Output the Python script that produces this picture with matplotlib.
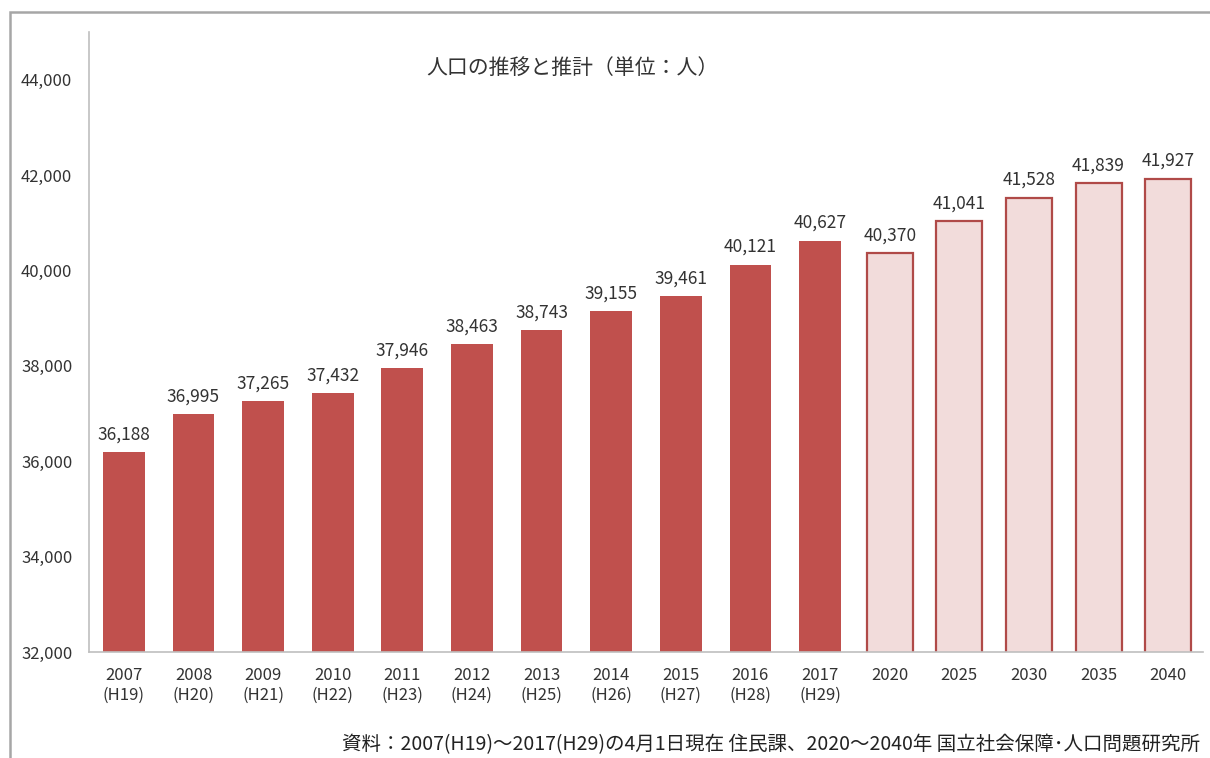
import matplotlib.pyplot as plt
from matplotlib.patches import Rectangle

plt.rcParams['font.family'] = ['Noto Sans CJK JP', 'DejaVu Sans']

# 実績 (各年4月1日現在)
actual_labels = ["2007\n(H19)", "2008\n(H20)", "2009\n(H21)", "2010\n(H22)", "2011\n(H23)",
                 "2012\n(H24)", "2013\n(H25)", "2014\n(H26)", "2015\n(H27)", "2016\n(H28)",
                 "2017\n(H29)"]
actual_pop = [36188, 36995, 37265, 37432, 37946, 38463, 38743, 39155, 39461, 40121, 40627]

# 推計
proj_labels = ["2020", "2025", "2030", "2035", "2040"]
proj_pop = [40370, 41041, 41528, 41839, 41927]

yticks = [32000, 34000, 36000, 38000, 40000, 42000, 44000]

fig = plt.figure(figsize=(12.1, 7.58), dpi=100)
ax = fig.add_axes([89 / 1210, 1 - 652 / 758, (1203 - 89) / 1210, (652 - 32) / 758])

xa = list(range(len(actual_pop)))
xp = list(range(len(actual_pop), len(actual_pop) + len(proj_pop)))

ax.bar(xa, actual_pop, width=0.6, color="#C0504D", zorder=2)
ax.bar(xp, proj_pop, width=0.66, color="#F2DCDB", edgecolor="#B04A48", linewidth=1.6, zorder=2)

for x, v in zip(xa + xp, actual_pop + proj_pop):
    ax.text(x, v + 180, f"{v:,}", ha="center", va="bottom", fontsize=12.5, color="#333333")

ax.set_xlim(-0.5, len(xa) + len(xp) - 0.5)
ax.set_ylim(32000, 45000)
ax.set_yticks(yticks)
ax.set_yticklabels([f"{t:,}" for t in yticks])
ax.set_xticks(xa + xp)
ax.set_xticklabels(actual_labels + proj_labels)
ax.tick_params(axis="both", length=0, labelsize=12, colors="#333333")
ax.tick_params(axis="y", pad=12)
ax.tick_params(axis="x", pad=11)

for side in ["top", "right"]:
    ax.spines[side].set_visible(False)
ax.spines["left"].set_color("#BFBFBF")
ax.spines["bottom"].set_color("#BFBFBF")
ax.spines["left"].set_linewidth(1.2)
ax.spines["bottom"].set_linewidth(1.2)

fig.text(572 / 1210, 1 - 68 / 758, "人口の推移と推計（単位：人）", ha="center", va="center",
         fontsize=15, color="#333333")
fig.text(1200 / 1210, 1 - 745 / 758,
         "資料：2007(H19)～2017(H29)の4月1日現在 住民課、2020～2040年 国立社会保障･人口問題研究所",
         ha="right", va="center", fontsize=14, color="#222222")

# 外枠
fig.patches.append(Rectangle((10 / 1210, -0.1), 1.2, 1 - 12 / 758 + 0.1, transform=fig.transFigure,
                             fill=False, edgecolor="#A6A6A6", linewidth=1.8))

fig.savefig("out.png", dpi=100)
